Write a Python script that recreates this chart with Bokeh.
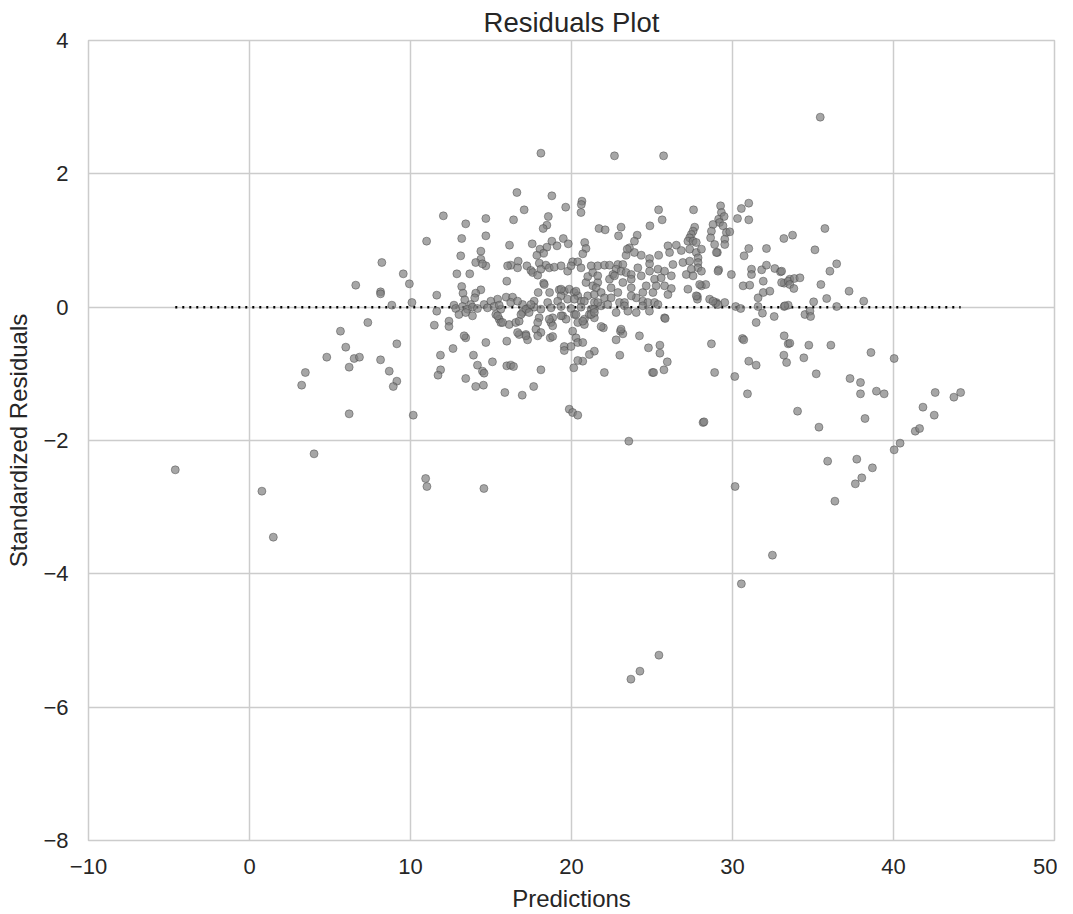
from bokeh.plotting import figure
from bokeh.models import FixedTicker, Range1d
from bokeh.embed import file_html
from bokeh.resources import INLINE

# Predictions (x) and standardized residuals (y)
predictions = [
    12.04, 11.0, 8.22, 9.55, 9.93, 6.60, 8.14, 8.14, 11.63, 8.84, 10.09, 11.63, 7.35, 11.48, 12.39, 12.39,
    5.65, 5.98, 9.15, 4.80, 6.50, 6.83, 8.14, 11.86, 6.19, 8.68, 3.47, 11.87, 11.71, 9.15, 8.93, 3.24,
    6.19, 10.17, 4.01, -4.61, 10.94, 11.02, 0.77, 1.48, 14.56,
    18.10, 16.61, 18.78, 20.65, 20.61, 20.59, 19.64, 17.06, 13.43, 14.68, 16.40, 18.56, 18.47, 18.24, 21.71,
    13.18, 14.68, 19.49, 18.78, 16.15, 17.56, 19.80, 20.82, 18.47, 18.04, 18.27, 19.10, 20.90, 20.70, 14.37,
    13.12, 17.85, 14.37, 14.05, 14.68, 14.47, 16.69, 16.23, 16.65, 16.03, 17.23, 17.48, 17.59, 17.90, 18.0,
    18.41, 18.10, 18.62, 18.93, 19.35, 19.76, 20.07, 20.39, 19.97, 20.59, 21.63, 12.88, 13.68, 13.18, 13.26,
    13.37, 14.37, 14.05, 13.99, 15.98, 18.27, 17.93, 18.64, 15.94, 16.34, 15.41, 19.24, 19.55, 19.86, 20.17,
    20.39, 19.35, 19.76, 20.59, 21.01, 21.32, 21.63, 20.90, 21.01, 21.32, 21.63, 18.52, 17.68, 16.96, 14.57,
    13.74, 12.70,
    14.99, 16.23, 16.65, 19.14, 20.18, 20.80, 21.42, 21.84,
    12.81, 13.23, 13.54, 13.85, 14.16, 14.78, 15.19, 15.61, 17.27, 17.68, 18.10, 18.73, 19.35, 19.97, 20.59, 21.22,
    13.01, 13.43, 13.85, 15.30, 15.51, 15.61, 16.13, 16.54, 16.75, 16.96, 17.17, 17.37, 17.99, 18.83, 18.72,
    18.83, 19.45, 19.66, 20.18, 20.39, 20.80, 21.11, 21.42,
    13.43, 14.68, 15.98, 16.75, 17.17, 17.27, 17.79, 18.10, 18.68, 18.83, 20.07, 20.28, 19.55, 19.55, 19.97,
    20.39, 20.70, 21.42, 21.11, 20.70, 20.39, 20.14, 12.64, 13.91, 14.16, 14.47, 14.57, 15.09, 15.98, 16.23,
    16.40, 18.10, 13.43, 14.05, 14.53, 15.86, 16.94, 17.65, 19.86, 20.07, 20.39,
    22.67, 25.72, 25.41, 25.63, 27.58, 29.26, 29.31, 29.14, 29.48, 29.20, 30.55, 31.01, 30.31, 31.01,
    22.09, 23.08, 22.92, 24.87, 27.65, 27.55, 27.44, 27.34, 27.23, 27.55, 27.75, 28.79, 28.69, 28.64, 28.89,
    29.06, 29.41, 29.62, 29.52, 29.52, 29.83, 24.08, 23.91, 23.60, 23.39, 25.99, 26.51, 26.09, 26.82, 27.34,
    27.75, 28.07, 27.86, 29.0, 30.72, 31.01, 32.11, 33.19, 23.91, 24.33, 23.46, 24.85, 24.85, 25.41,
    21.22, 22.05, 22.36, 22.88, 23.19, 22.77, 23.08, 23.39, 23.71, 22.57,
    24.12, 24.33, 24.85, 25.37, 25.78, 26.30, 26.92, 27.34, 27.86, 27.86, 27.44, 27.13, 27.55, 28.07, 29.14,
    29.93, 31.18, 31.18, 31.81, 32.11, 32.63, 32.98, 31.91, 30.66, 31.07, 31.59, 31.91, 32.32, 33.21, 33.56,
    22.36, 22.67, 23.19, 23.71, 22.46, 22.88, 23.71, 24.02, 24.43, 24.64, 25.16, 25.57, 25.78, 25.26, 25.06,
    26.20, 26.20, 25.99, 28.07, 28.34, 27.82, 28.58, 29.0, 29.52,
    21.53, 21.42, 21.84, 22.05, 21.63, 22.46, 22.98, 23.29, 23.71, 24.43, 24.74, 25.16, 25.37,
    22.25, 22.77, 23.29, 23.50, 24.02, 24.43, 24.84, 25.78, 21.22, 21.42,
    21.98, 23.04, 23.19, 22.77, 24.22, 23.00, 24.78, 25.49, 25.49, 25.95, 25.74, 25.03, 25.10, 22.04, 25.82,
    28.69, 28.89, 27.82, 28.94, 30.20, 30.51, 31.59, 31.86, 32.59, 33.21, 33.46, 31.47, 30.62, 30.70, 33.21,
    33.46, 33.19, 33.36, 31.01, 31.47, 30.14, 30.93, 28.17, 28.23, 23.56,
    35.45, 35.74, 33.73, 35.12, 36.47, 36.05, 33.05, 33.05, 33.46, 33.84, 34.19, 33.56, 33.81, 35.49, 37.24,
    35.85, 35.04, 38.15, 33.25, 36.47,
    34.50, 34.81, 34.85, 33.56, 34.74, 36.11, 34.43, 38.60, 40.04, 35.20, 37.30, 37.95, 37.95, 38.94, 39.42,
    42.59, 43.75, 44.17, 41.83, 42.53, 41.35, 41.62, 34.04, 38.23, 35.37, 40.41, 40.04, 35.91, 37.72, 38.69,
    38.03, 37.63, 36.36,
    30.16, 32.48, 30.55, 25.43, 24.25, 23.69,
    15.41, 15.72, 16.86, 17.90, 18.62, 19.35, 20.28, 20.80, 16.65, 17.17, 17.90, 13.33, 15.51, 17.48, 19.35,
    20.28, 18.31, 20.70, 21.42, 21.84, 23.08, 29.10, 28.79, 27.96, 27.75, 27.23, 29.10,
]

residuals = [
    1.37, 0.99, 0.67, 0.50, 0.35, 0.33, 0.23, 0.20, 0.18, 0.03, 0.07, -0.06, -0.23, -0.27, -0.21, -0.29,
    -0.36, -0.60, -0.55, -0.75, -0.77, -0.75, -0.79, -0.72, -0.90, -0.96, -0.98, -0.94, -1.02, -1.11, -1.19, -1.17,
    -1.60, -1.62, -2.20, -2.44, -2.57, -2.69, -2.76, -3.45, -2.72,
    2.31, 1.72, 1.67, 1.59, 1.54, 1.42, 1.50, 1.46, 1.25, 1.33, 1.31, 1.36, 1.23, 1.18, 1.18,
    1.03, 1.07, 1.03, 0.99, 0.93, 0.95, 0.95, 0.97, 0.90, 0.87, 0.81, 0.92, 0.88, 0.80, 0.84,
    0.77, 0.78, 0.72, 0.67, 0.62, 0.65, 0.69, 0.63, 0.59, 0.62, 0.62, 0.55, 0.52, 0.48, 0.66,
    0.63, 0.57, 0.59, 0.60, 0.62, 0.54, 0.68, 0.68, 0.62, 0.59, 0.62, 0.50, 0.50, 0.31, 0.21,
    0.11, 0.26, 0.21, 0.14, 0.39, 0.36, 0.22, 0.22, 0.15, 0.15, 0.12, 0.26, 0.24, 0.27, 0.22,
    0.17, 0.17, 0.12, 0.09, 0.17, 0.32, 0.37, 0.37, 0.46, 0.52, 0.47, 0.07, 0.09, 0.04, 0.04,
    0.04, 0.03,
    0.09, 0.07, 0.09, 0.09, 0.12, 0.09, 0.07, 0.02,
    -0.02, 0.01, -0.03, 0.0, -0.02, -0.01, 0.01, -0.03, -0.02, 0.0, -0.03, -0.01, 0.01, -0.02, 0.0, -0.03,
    -0.11, -0.08, -0.13, -0.11, -0.18, -0.23, -0.26, -0.23, -0.21, -0.08, -0.03, -0.08, -0.16, -0.16, -0.23,
    -0.28, -0.13, -0.18, -0.11, -0.23, -0.18, -0.11, -0.16,
    -0.46, -0.53, -0.51, -0.41, -0.41, -0.49, -0.33, -0.38, -0.46, -0.44, -0.36, -0.46, -0.59, -0.65, -0.59,
    -0.53, -0.53, -0.66, -0.71, -0.81, -0.80, -0.91, -0.62, -0.72, -0.87, -0.96, -0.99, -0.82, -0.88, -0.87,
    -0.89, -0.94, -1.07, -1.19, -1.17, -1.28, -1.32, -1.19, -1.53, -1.58, -1.62,
    2.27, 2.27, 1.46, 1.31, 1.46, 1.52, 1.42, 1.32, 1.36, 1.27, 1.48, 1.56, 1.33, 1.31,
    1.16, 1.20, 1.07, 1.22, 1.20, 1.14, 1.09, 1.04, 0.99, 0.99, 0.97, 1.24, 1.14, 1.04, 0.94,
    0.82, 1.22, 1.12, 1.02, 0.94, 1.13, 1.08, 0.99, 0.89, 0.78, 0.92, 0.93, 0.82, 0.85, 0.87,
    0.82, 0.87, 0.74, 0.82, 0.77, 0.88, 0.88, 1.03, 0.82, 0.78, 0.87, 0.73, 0.65, 0.78,
    0.62, 0.63, 0.63, 0.64, 0.64, 0.57, 0.54, 0.52, 0.49, 0.49,
    0.59, 0.47, 0.54, 0.57, 0.54, 0.64, 0.67, 0.69, 0.67, 0.59, 0.57, 0.49, 0.47, 0.54, 0.56,
    0.49, 0.57, 0.49, 0.56, 0.63, 0.58, 0.53, 0.39, 0.32, 0.33, 0.14, 0.22, 0.24, 0.36, 0.42,
    0.42, 0.47, 0.37, 0.42, 0.29, 0.22, 0.29, 0.14, 0.22, 0.32, 0.42, 0.44, 0.32, 0.32, 0.22,
    0.47, 0.28, 0.19, 0.32, 0.34, 0.16, 0.12, 0.07, 0.07,
    0.29, 0.19, 0.22, 0.14, 0.07, 0.14, 0.07, 0.07, 0.17, 0.09, 0.07, 0.07, 0.04,
    0.04, -0.08, 0.02, -0.06, -0.08, 0.02, -0.06, -0.16, -0.11, -0.03,
    -0.31, -0.36, -0.40, -0.49, -0.43, -0.72, -0.61, -0.57, -0.69, -0.82, -0.94, -0.98, -0.98, -0.98, -0.17,
    -0.55, -0.98, 0.12, 0.06, 0.01, -0.02, 0.01, -0.09, -0.14, 0.01, 0.03, -0.23, -0.47, -0.49, -0.43,
    -0.55, -0.72, -0.83, -0.81, -0.87, -1.04, -1.30, -1.73, -1.72, -2.01,
    2.85, 1.18, 1.08, 0.86, 0.65, 0.54, 0.54, 0.37, 0.39, 0.43, 0.44, 0.34, 0.28, 0.34, 0.24,
    0.13, 0.08, 0.09, 0.02, 0.01,
    -0.11, -0.06, -0.14, -0.54, -0.57, -0.57, -0.76, -0.68, -0.77, -1.0, -1.07, -1.13, -1.30, -1.26, -1.30,
    -1.28, -1.35, -1.28, -1.50, -1.62, -1.86, -1.82, -1.56, -1.67, -1.80, -2.04, -2.14, -2.31, -2.28, -2.41,
    -2.56, -2.65, -2.91,
    -2.69, -3.72, -4.15, -5.22, -5.46, -5.58,
    -0.13, -0.23, -0.11, -0.23, -0.18, -0.13, -0.11, -0.26, -0.38, -0.43, -0.43, -0.43, 0.03, 0.04, 0.27,
    0.24, 0.34, -0.21, -0.08, -0.29, -0.33, 0.04, 0.09, 0.34, 0.17, 0.27, 0.54,
]

x_ticks = [-10, 0, 10, 20, 30, 40, 50]
y_ticks = [-8, -6, -4, -2, 0, 2, 4]

FONT = "Liberation Sans"
TEXT = "#262626"
GRID = "#cccccc"

p = figure(
    frame_width=966, frame_height=800,
    x_range=Range1d(-10, 50), y_range=Range1d(-8, 4),
    output_backend="svg", toolbar_location=None,
    title="Residuals Plot",
    min_border_left=88, min_border_right=3, min_border_top=40, min_border_bottom=72,
    background_fill_color="white", border_fill_color="white",
)

p.title.align = "center"
p.title.text_font = FONT
p.title.text_font_size = "27.5px"
p.title.text_font_style = "normal"
p.title.text_color = TEXT
p.title.standoff = 6

p.outline_line_color = GRID
p.outline_line_width = 1.5

for ax in (p.xaxis[0], p.yaxis[0]):
    ax.axis_line_color = None
    ax.major_tick_line_color = None
    ax.minor_tick_line_color = None
    ax.major_label_text_font = FONT
    ax.major_label_text_font_size = "22px"
    ax.major_label_text_color = TEXT
    ax.axis_label_text_font = FONT
    ax.axis_label_text_font_size = "24px"
    ax.axis_label_text_font_style = "normal"
    ax.axis_label_text_color = TEXT

p.xaxis.axis_label = "Predictions"
p.yaxis.axis_label = "Standardized Residuals"
p.xaxis.ticker = FixedTicker(ticks=x_ticks)
p.yaxis.ticker = FixedTicker(ticks=y_ticks)
p.xaxis.major_label_overrides = {t: str(t).replace("-", "\u2212") for t in x_ticks}
p.yaxis.major_label_overrides = {t: str(t).replace("-", "\u2212") for t in y_ticks}
p.xaxis.major_label_standoff = 12
p.yaxis.major_label_standoff = 14
p.xaxis.axis_label_standoff = 8
p.yaxis.axis_label_standoff = 8

p.grid.grid_line_color = GRID
p.grid.grid_line_width = 1.5

# zero reference line spanning the predictions
p.line([min(predictions), max(predictions)], [0, 0], line_color="black",
       line_width=2.5, line_dash="2 5")

p.scatter(predictions, residuals, size=8, fill_color="#808080", fill_alpha=0.7,
          line_color="#404040", line_alpha=0.45, line_width=1)

open("out.html", "w").write(file_html(p, INLINE))
